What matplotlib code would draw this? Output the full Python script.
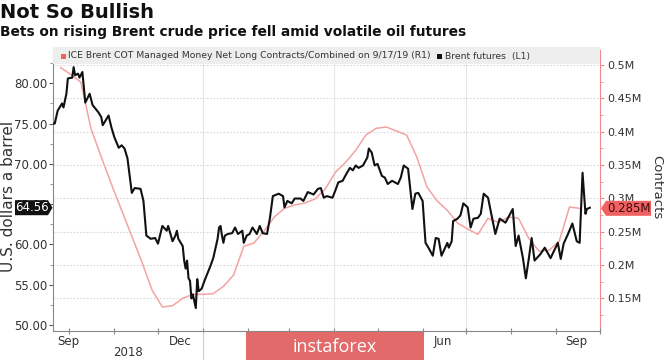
import matplotlib
matplotlib.use("Agg")
import matplotlib.pyplot as plt
import matplotlib.dates as mdates
import matplotlib.transforms as mtrans
from matplotlib.patches import Polygon, Rectangle
from matplotlib.ticker import FixedLocator, FixedFormatter, MultipleLocator, NullFormatter, FuncFormatter
import pandas as pd

# ---------------- data ----------------
title = "Not So Bullish"
subtitle = "Bets on rising Brent crude price fell amid volatile oil futures"
cot_label = "ICE Brent COT Managed Money Net Long Contracts/Combined on 9/17/19 (R1)"
price_label = "Brent futures  (L1)"

cot_dates = pd.date_range("2018-09-25", "2019-09-17", freq="W-TUE")
cot_values = [0.496, 0.486, 0.474, 0.404, 0.362, 0.321, 0.282, 0.243, 0.204, 0.162,
              0.137, 0.139, 0.150, 0.156,
              0.156, 0.157, 0.168, 0.185, 0.228, 0.233, 0.251, 0.272, 0.285, 0.290,
              0.293, 0.299, 0.314, 0.339, 0.354, 0.372, 0.395, 0.405, 0.407, 0.401,
              0.395, 0.362, 0.317, 0.296, 0.282, 0.263, 0.254, 0.246, 0.270, 0.264,
              0.272, 0.270, 0.240, 0.221, 0.222, 0.236, 0.287, 0.285]

price_dates = [
    "2018-09-20", "2018-09-21", "2018-09-23", "2018-09-26", "2018-09-27", "2018-09-29",
    "2018-09-30", "2018-10-03", "2018-10-04", "2018-10-05", "2018-10-07", "2018-10-08",
    "2018-10-10", "2018-10-12", "2018-10-15", "2018-10-17", "2018-10-21", "2018-10-23",
    "2018-10-24", "2018-10-28", "2018-10-30", "2018-11-01", "2018-11-04", "2018-11-06",
    "2018-11-08", "2018-11-10", "2018-11-13", "2018-11-15", "2018-11-19", "2018-11-21",
    "2018-11-23", "2018-11-26", "2018-11-29", "2018-12-01", "2018-12-04", "2018-12-07",
    "2018-12-08", "2018-12-11", "2018-12-13", "2018-12-14", "2018-12-15", "2018-12-18",
    "2018-12-19", "2018-12-20", "2018-12-21", "2018-12-22", "2018-12-23", "2018-12-24",
    "2018-12-25", "2018-12-27", "2018-12-28", "2018-12-29", "2018-12-31", "2019-01-02",
    "2019-01-06", "2019-01-08", "2019-01-11", "2019-01-12", "2019-01-13", "2019-01-14",
    "2019-01-15", "2019-01-16", "2019-01-18", "2019-01-21", "2019-01-23", "2019-01-25",
    "2019-01-28", "2019-01-29", "2019-01-31", "2019-02-02", "2019-02-04", "2019-02-07",
    "2019-02-09", "2019-02-11", "2019-02-14", "2019-02-16", "2019-02-18", "2019-02-22",
    "2019-02-25", "2019-02-26", "2019-02-28", "2019-03-03", "2019-03-05", "2019-03-09",
    "2019-03-11", "2019-03-14", "2019-03-18", "2019-03-21", "2019-03-23", "2019-03-25",
    "2019-03-27", "2019-03-31", "2019-04-02", "2019-04-04", "2019-04-07", "2019-04-10",
    "2019-04-12", "2019-04-14", "2019-04-16", "2019-04-18", "2019-04-21", "2019-04-24",
    "2019-04-25", "2019-04-27", "2019-04-29", "2019-05-01", "2019-05-04", "2019-05-06",
    "2019-05-08", "2019-05-11", "2019-05-15", "2019-05-17", "2019-05-19", "2019-05-22",
    "2019-05-25", "2019-05-27", "2019-05-29", "2019-06-01", "2019-06-03", "2019-06-05",
    "2019-06-08", "2019-06-10", "2019-06-12", "2019-06-14", "2019-06-18", "2019-06-19",
    "2019-06-21", "2019-06-22", "2019-06-25", "2019-06-27", "2019-06-29", "2019-07-02",
    "2019-07-04", "2019-07-06", "2019-07-09", "2019-07-11", "2019-07-13", "2019-07-16",
    "2019-07-21", "2019-07-24", "2019-07-28", "2019-08-02", "2019-08-04", "2019-08-06",
    "2019-08-09", "2019-08-11", "2019-08-13", "2019-08-15", "2019-08-17", "2019-08-21",
    "2019-08-24", "2019-08-28", "2019-09-02", "2019-09-04", "2019-09-06", "2019-09-09",
    "2019-09-12", "2019-09-15", "2019-09-17", "2019-09-19", "2019-09-21", "2019-09-22",
    "2019-09-24"]
price_values = [
    75.0, 75.0, 76.6, 77.5, 77.0, 78.7,
    80.6, 80.7, 82.0, 81.0, 81.2, 80.7,
    81.4, 77.6, 78.7, 77.3, 76.4, 75.8,
    74.8, 76.0, 74.5, 73.3, 72.0, 72.3,
    71.9, 70.7, 66.4, 67.0, 66.9, 65.4,
    61.1, 60.7, 60.8, 60.1, 62.3, 61.7,
    62.3, 60.4, 61.1, 61.7, 60.7, 59.8,
    58.0, 57.0, 58.0, 55.8, 55.5, 53.3,
    53.8, 52.1, 55.7, 54.2, 54.5, 55.5,
    57.3, 58.3, 60.7, 62.1, 62.3, 61.1,
    60.2, 61.1, 61.3, 61.4, 62.1, 61.3,
    61.7, 60.2, 61.1, 61.3, 62.1, 61.3,
    62.3, 61.4, 61.3, 63.3, 66.0, 66.3,
    66.0, 64.6, 65.4, 65.1, 65.7, 65.7,
    65.4, 66.5, 66.2, 66.9, 67.0, 65.8,
    66.0, 65.8, 66.7, 67.7, 67.9, 68.9,
    69.5, 69.2, 69.8, 69.5, 69.8, 70.8,
    71.9, 71.4, 69.8, 70.0, 68.5, 68.3,
    67.5, 67.9, 67.5, 68.3, 69.8, 69.4,
    64.4, 66.3, 66.4, 65.4, 60.2, 59.6,
    58.6, 60.8, 60.7, 58.6, 60.2, 59.6,
    60.4, 62.9, 63.2, 63.6, 65.1, 64.6,
    62.1, 63.2, 63.3, 63.8, 66.3, 65.8,
    61.3, 63.2, 62.7, 64.4, 59.8, 61.1,
    58.3, 55.8, 58.2, 60.8, 58.0, 58.8,
    59.6, 58.3, 60.2, 58.2, 60.1, 61.3,
    62.6, 60.4, 60.2, 68.9, 63.8, 64.4,
    64.56]

left_ticks = [50, 55, 60, 65, 70, 75, 80]
right_ticks = [0.15, 0.2, 0.25, 0.3, 0.35, 0.4, 0.45, 0.5]
month_label_dates = ["2018-09-30", "2018-12-16", "2019-03-16", "2019-06-15", "2019-09-15"]
month_label_texts = ["Sep", "Dec", "Mar", "Jun", "Sep"]
quarter_lines = ["2019-01-01", "2019-04-01", "2019-07-01"]
year_start = "2019-01-01"
x_start, x_end = "2018-09-19 19:00", "2019-10-01"

# ---------------- figure ----------------
W, H = 665, 360
fig = plt.figure(figsize=(W / 100, H / 100), dpi=100)
fig.patch.set_facecolor("white")
plt.rcParams["font.family"] = ["DejaVu Sans"]

L, R, B, T = 53, 600, 331, 50
ax = fig.add_axes([L / W, 1 - B / H, (R - L) / W, (B - T) / H])
ax2 = ax.twinx()
ax.set_zorder(2)
ax2.set_zorder(1)
ax.patch.set_visible(False)
ax2.patch.set_facecolor("white")

pdates = pd.to_datetime(price_dates)
ax2.plot(cot_dates, cot_values, color="#f2a3a3", lw=1.1, zorder=3)
ax.plot(pdates, price_values, color="#111111", lw=1.5, zorder=4)

xs = mdates.date2num(pd.Timestamp(x_start))
xe = mdates.date2num(pd.Timestamp(x_end))
ax.set_xlim(xs, xe)
ax.set_ylim(49.26, 84.13)
ax2.set_ylim(0.101, 0.5225)

# grid (right axis based) and vertical quarter lines
ax2.yaxis.set_major_locator(FixedLocator(right_ticks))
ax2.yaxis.set_minor_locator(MultipleLocator(0.025))
ax2.yaxis.grid(True, which="major", linestyle=(0, (1.5, 1.5)), color="#d9d9d9", lw=0.8)
for q in quarter_lines:
    ax2.axvline(mdates.date2num(pd.Timestamp(q)), color="#e6e6e6", lw=0.8, zorder=1)

ax2.yaxis.set_major_formatter(FuncFormatter(lambda v, p: f"{v:g}M"))
ax2.tick_params(axis="y", which="major", direction="out", length=3, color="#f08a8a",
                labelsize=8, labelcolor="#333333", pad=2)
ax2.tick_params(axis="y", which="minor", direction="out", length=2, color="#f08a8a")

ax.yaxis.set_major_locator(FixedLocator(left_ticks))
ax.yaxis.set_minor_locator(MultipleLocator(2.5))
ax.yaxis.set_major_formatter(FuncFormatter(lambda v, p: f"{v:.2f}"))
ax.tick_params(axis="y", which="major", direction="out", length=3, color="#555555",
               labelsize=8.5, labelcolor="#333333", pad=1)
ax.tick_params(axis="y", which="minor", direction="out", length=2, color="#888888")

ax.xaxis.set_major_locator(mdates.MonthLocator())
ax.xaxis.set_major_formatter(NullFormatter())
ax.xaxis.set_minor_locator(FixedLocator(mdates.date2num(pd.to_datetime(month_label_dates))))
ax.xaxis.set_minor_formatter(FixedFormatter(month_label_texts))
ax.tick_params(axis="x", which="major", direction="inout", length=4, color="#888888")
ax.tick_params(axis="x", which="minor", length=0, labelsize=8.5, labelcolor="#333333", pad=3)
ax2.tick_params(axis="x", which="both", length=0)

for s in ["top", "right"]:
    ax.spines[s].set_visible(False)
for s in ["top", "left", "bottom"]:
    ax2.spines[s].set_visible(False)
ax.spines["left"].set_color("#888888")
ax.spines["bottom"].set_color("#888888")
ax2.spines["right"].set_color("#f08a8a")

ax.set_ylabel("U.S. dollars a barrel", fontsize=11, color="#333333")
ax.yaxis.set_label_coords(-0.068, 0.48)
ax2.set_ylabel("Contracts", fontsize=9.5, color="#333333", rotation=270)
ax2.yaxis.set_label_coords(1.115, 0.512)

# year separator and year label
blend = mtrans.blended_transform_factory(ax.transData, ax.transAxes)
ys = mdates.date2num(pd.Timestamp(year_start))
ax.plot([ys, ys], [0, -0.11], transform=blend, color="#cccccc", lw=0.8, clip_on=False)
ax.text((xs + ys) / 2, -0.075, "2018", transform=blend, ha="center", va="center",
        fontsize=8.5, color="#333333")
ax.text((ys + xe) / 2, -0.075, "2019", transform=blend, ha="center", va="center",
        fontsize=8.5, color="#333333")

# titles
fig.text(0.0, 1 - 3 / H, title, fontsize=14, weight="bold", va="top", ha="left", color="#111111")
fig.text(0.0, 1 - 25 / H, subtitle, fontsize=9.9, weight="bold", va="top", ha="left", color="#111111")

# legend band
fig.add_artist(Rectangle((L / W, 1 - 64 / H), (R - L) / W, 17 / H, transform=fig.transFigure,
                         facecolor="#eeeeee", edgecolor="none", zorder=5))
fig.add_artist(Rectangle((61 / W, 1 - 59 / H), 5 / W, 5 / H, transform=fig.transFigure,
                         facecolor="#f06262", edgecolor="none", zorder=6))
fig.text(68 / W, 1 - 56 / H, cot_label, fontsize=6.7, va="center", ha="left", color="#333333", zorder=6)
fig.add_artist(Rectangle((437 / W, 1 - 59 / H), 5 / W, 5 / H, transform=fig.transFigure,
                         facecolor="#111111", edgecolor="none", zorder=6))
fig.text(445 / W, 1 - 56 / H, price_label, fontsize=6.7, va="center", ha="left", color="#333333", zorder=6)

# last-value tags
fig.canvas.draw()
inv = fig.transFigure.inverted()
yl = inv.transform(ax.transData.transform((xs, price_values[-1])))[1]
yr = inv.transform(ax2.transData.transform((xs, cot_values[-1])))[1]
hh = 7.5 / H
fig.add_artist(Polygon([(15 / W, yl - hh), (48 / W, yl - hh), (52.5 / W, yl), (48 / W, yl + hh),
                        (15 / W, yl + hh)], closed=True, transform=fig.transFigure,
                       facecolor="#111111", edgecolor="none", zorder=6))
fig.text(32 / W, yl, f"{price_values[-1]:.2f}", fontsize=8.5, color="white", ha="center",
         va="center", zorder=7)
fig.add_artist(Polygon([(601 / W, yr), (606 / W, yr - hh), (651 / W, yr - hh), (651 / W, yr + hh),
                        (606 / W, yr + hh)], closed=True, transform=fig.transFigure,
                       facecolor="#f06262", edgecolor="none", zorder=6))
fig.text(629 / W, yr, f"{cot_values[-1]:g}M", fontsize=8.5, color="#3a0a0a", ha="center",
         va="center", zorder=7)

# watermark
fig.add_artist(Rectangle((246 / W, 0), 178 / W, 28 / H, transform=fig.transFigure,
                         facecolor="#e26a6a", edgecolor="none", zorder=8))
fig.text(335 / W, 13 / H, "instaforex", fontsize=13, family=["Open Sans", "DejaVu Sans"],
         color="white", ha="center", va="center", zorder=9)

fig.savefig("out.png", dpi=100, facecolor="white")
